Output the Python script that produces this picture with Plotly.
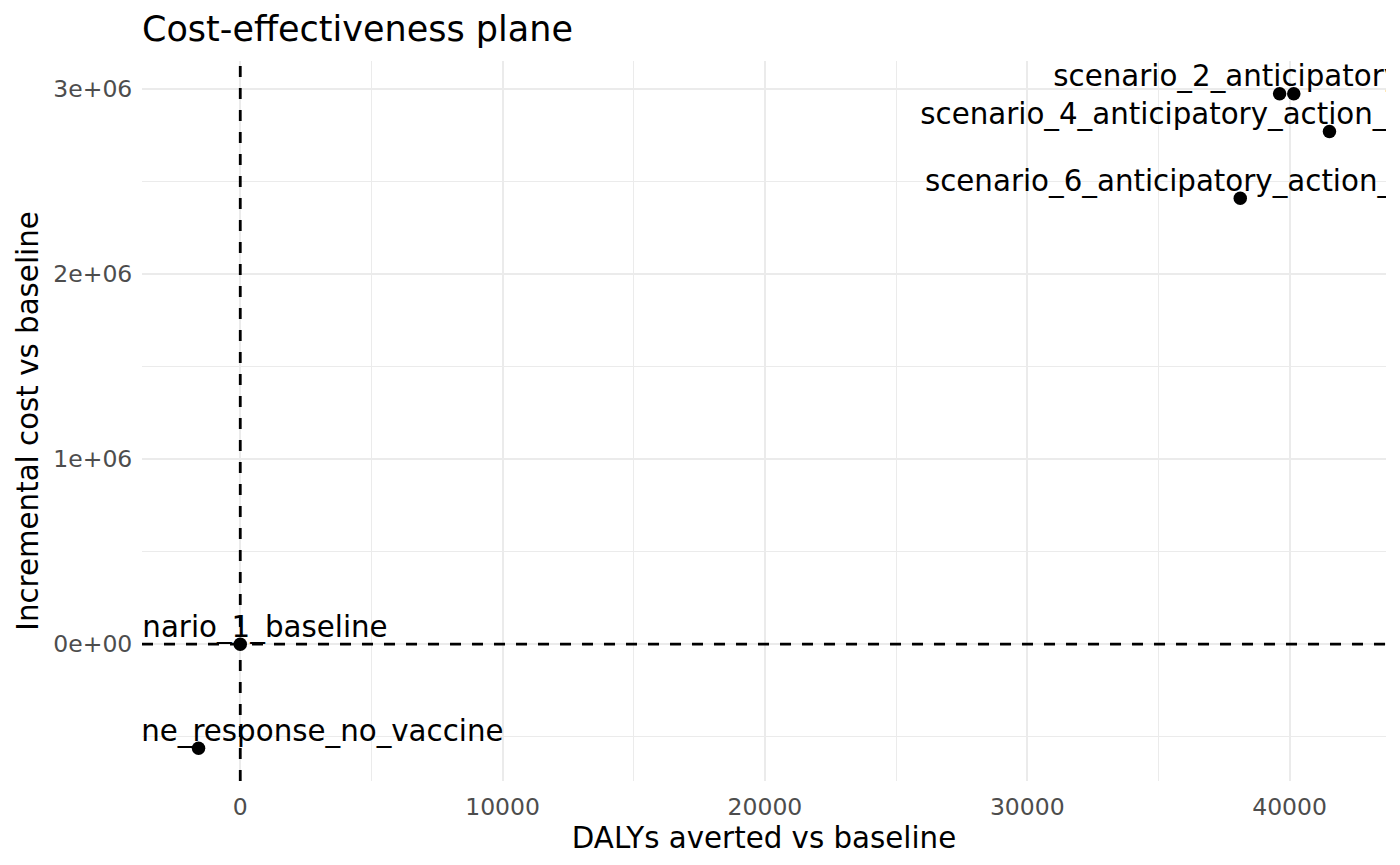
import plotly.graph_objects as go

# ---- data ----
scenarios = [
    "scenario_1_baseline",
    "scenario_2_anticipatory_action",
    "scenario_3_vaccine_response_no_vaccine",
    "scenario_4_anticipatory_action_preemptive_vaccination",
    "scenario_5_anticipatory_action_with_vaccine",
    "scenario_6_anticipatory_action_no_vaccine",
]
dalys_averted = [0, 39620, -1590, 41520, 40160, 38120]
incremental_cost = [0, 2973000, -562000, 2769000, 2973000, 2409000]
# label hidden by overlap check (ggplot check_overlap) in the reference
label_shown = [True, True, True, True, False, True]

# reference lines (break-even axes)
ref_x = 0
ref_y = 0

x_tick_vals = [0, 10000, 20000, 30000, 40000]
x_tick_text = ["0", "10000", "20000", "30000", "40000"]
x_minor_vals = [5000, 15000, 25000, 35000]
y_tick_vals = [0, 1000000, 2000000, 3000000]
y_tick_text = ["0e+00", "1e+06", "2e+06", "3e+06"]
y_minor_vals = [-500000, 500000, 1500000, 2500000]

FONT = "DejaVu Sans"


def expanded(vals, frac=0.05):
    lo, hi = min(vals), max(vals)
    pad = (hi - lo) * frac
    return [lo - pad, hi + pad]


x_range = expanded(dalys_averted)
y_range = expanded(incremental_cost)
labels = [s if show else "" for s, show in zip(scenarios, label_shown)]

dash_line = dict(color="black", width=2.8, dash="11px,11px")

fig = go.Figure()
# dashed reference lines spanning the panel
fig.add_trace(go.Scatter(x=x_range, y=[ref_y, ref_y], mode="lines", line=dash_line,
                         hoverinfo="skip", showlegend=False))
fig.add_trace(go.Scatter(x=[ref_x, ref_x], y=y_range, mode="lines", line=dash_line,
                         hoverinfo="skip", showlegend=False))
fig.add_trace(go.Scatter(
    x=dalys_averted,
    y=incremental_cost,
    mode="markers",
    marker=dict(color="black", size=13.5),
    cliponaxis=True,
    hoverinfo="text",
    hovertext=scenarios,
    showlegend=False,
))
fig.add_trace(go.Scatter(
    x=dalys_averted,
    y=incremental_cost,
    mode="text",
    text=labels,
    textposition="top center",
    textfont=dict(family=FONT, size=29.3, color="black"),
    cliponaxis=True,
    hoverinfo="skip",
    showlegend=False,
))

fig.update_layout(
    width=1400,
    height=865,
    paper_bgcolor="white",
    plot_bgcolor="white",
    margin=dict(l=142, r=14, t=61, b=84, autoexpand=False),
    title=dict(
        text="Cost-effectiveness plane",
        font=dict(family=FONT, size=35, color="black"),
        x=0, xref="paper", xanchor="left",
        y=1 - 16 / 865, yref="container", yanchor="top",
    ),
    font=dict(family=FONT),
)

fig.update_xaxes(
    automargin=False,
    range=x_range,
    tickvals=x_tick_vals,
    ticktext=x_tick_text,
    tickfont=dict(family=FONT, size=23.5, color="#4D4D4D"),
    showgrid=True, gridcolor="#EBEBEB", gridwidth=2.2,
    minor=dict(tickvals=x_minor_vals, showgrid=True, gridcolor="#EBEBEB", gridwidth=1.1),
    zeroline=False, showline=False,
    ticks="outside", ticklen=5, tickcolor="rgba(0,0,0,0)",
    title=dict(text="DALYs averted vs baseline",
               font=dict(family=FONT, size=29.3, color="black"), standoff=2),
)
fig.update_yaxes(
    automargin=True,
    range=y_range,
    tickvals=y_tick_vals,
    ticktext=y_tick_text,
    tickfont=dict(family=FONT, size=23.5, color="#4D4D4D"),
    showgrid=True, gridcolor="#EBEBEB", gridwidth=2.2,
    minor=dict(tickvals=y_minor_vals, showgrid=True, gridcolor="#EBEBEB", gridwidth=1.1),
    zeroline=False, showline=False,
    ticks="outside", ticklen=4, tickcolor="rgba(0,0,0,0)",
    title=dict(text="Incremental cost vs baseline",
               font=dict(family=FONT, size=29.3, color="black"), standoff=6),
)

fig.write_html("out.html",
               config={"displayModeBar": False},
               post_script="document.body.style.margin='0';document.body.style.overflow='hidden';")
